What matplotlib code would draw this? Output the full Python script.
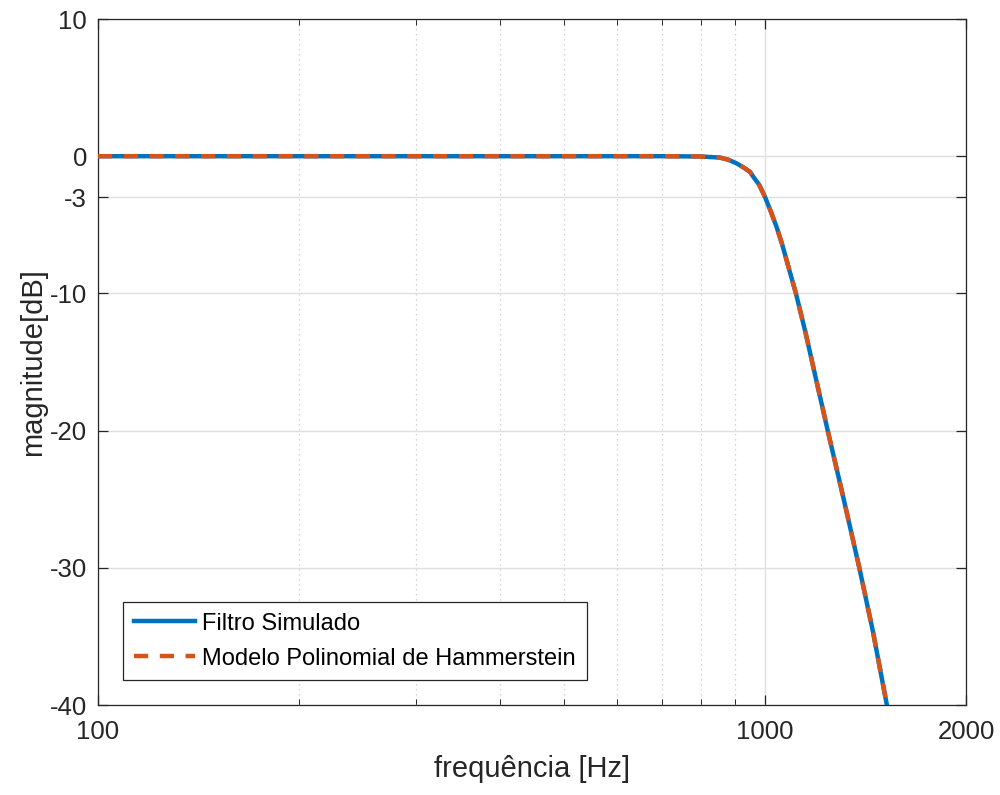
import matplotlib
matplotlib.use("Agg")
import matplotlib.pyplot as plt
from matplotlib.ticker import FixedLocator, NullFormatter

plt.rcParams["font.family"] = ["Liberation Sans", "DejaVu Sans"]

# Resposta em frequência (Hz, dB)
freq_hz = [100, 200, 400, 600, 700, 800, 855, 880, 907, 930, 949, 960, 980,
           1000, 1020, 1040, 1060, 1077, 1095, 1112, 1150, 1190, 1241, 1310,
           1384, 1450, 1522]
filtro_db = [0.0, 0.0, 0.0, 0.0, 0.0, -0.02, -0.1, -0.25, -0.53, -0.85, -1.14,
             -1.5, -2.1, -3.0, -4.05, -5.15, -6.4, -7.6, -8.85, -10.0, -12.9,
             -16.1, -20.0, -24.9, -30.0, -34.6, -40.0]
modelo_db = [0.0, 0.0, 0.0, 0.0, 0.0, -0.02, -0.1, -0.25, -0.53, -0.85, -1.14,
             -1.5, -2.1, -3.0, -4.05, -5.15, -6.4, -7.6, -8.85, -10.0, -12.9,
             -16.1, -20.0, -24.9, -30.0, -34.6, -40.0]

x_ticks = [100, 1000, 2000]
x_minor = [200, 300, 400, 500, 600, 700, 800, 900]
y_ticks = [-40, -30, -20, -10, -3, 0, 10]

AXIS_COLOR = "#262626"
GRID_COLOR = "#dfdfdf"

fig = plt.figure(figsize=(10, 7.95), dpi=100)
ax = fig.add_axes([0.098, 0.1132, 0.868, 0.8629])

ax.semilogx(freq_hz, filtro_db, color="#0072BD", linewidth=3.2,
            label="Filtro Simulado", zorder=3)
ax.semilogx(freq_hz, modelo_db, color="#D95319", linewidth=3.2,
            linestyle=(0, (3.2, 2.6)), label="Modelo Polinomial de Hammerstein",
            zorder=4)

ax.set_xlim(100, 2000)
ax.set_ylim(-40, 10)
ax.xaxis.set_major_locator(FixedLocator(x_ticks))
ax.xaxis.set_minor_locator(FixedLocator(x_minor))
ax.xaxis.set_minor_formatter(NullFormatter())
ax.set_xticklabels([str(t) for t in x_ticks])
ax.set_yticks(y_ticks)
ax.set_yticklabels([str(t) for t in y_ticks])

ax.grid(True, which="major", color=GRID_COLOR, linewidth=1.0, linestyle="-")
ax.grid(True, which="minor", axis="x", color="#c8c8c8", linewidth=0.9,
        linestyle=(0, (1, 3)))
ax.set_axisbelow(True)

ax.tick_params(which="both", direction="in", top=True, right=True,
               color=AXIS_COLOR, labelcolor=AXIS_COLOR, labelsize=18.5)
ax.tick_params(which="major", length=7, width=0.9)
ax.tick_params(axis="x", which="major", pad=11)
ax.tick_params(axis="y", which="major", pad=8)
ax.tick_params(which="minor", length=4, width=0.7)
for spine in ax.spines.values():
    spine.set_color(AXIS_COLOR)
    spine.set_linewidth(0.9)

ax.set_xlabel("frequência [Hz]", fontsize=21, color=AXIS_COLOR, labelpad=8)
ax.set_ylabel("magnitude[dB]", fontsize=21, color=AXIS_COLOR, labelpad=2)

leg = ax.legend(loc="lower left", bbox_to_anchor=(0.029, 0.036),
                borderaxespad=0, fontsize=17, handlelength=2.6,
                handletextpad=0.3, borderpad=0.45, labelspacing=0.55,
                fancybox=False, framealpha=1.0, edgecolor=AXIS_COLOR)
leg.get_frame().set_linewidth(0.9)

fig.savefig("out.png", dpi=100)
